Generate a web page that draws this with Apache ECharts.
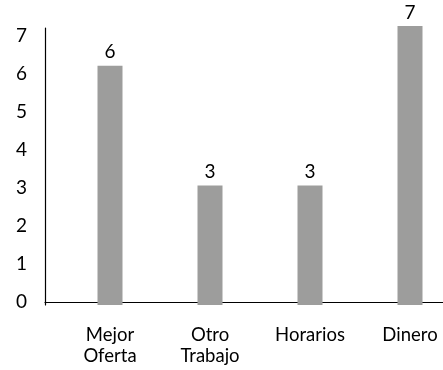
<!DOCTYPE html>
<html>
<head>
<meta charset="utf-8">
<script src="https://cdn.jsdelivr.net/npm/echarts@6/dist/echarts.min.js"></script>
<style>
  html, body { margin: 0; padding: 0; background: #fff; }
  #chart { width: 443px; height: 370px; }
</style>
</head>
<body>
<div id="chart"></div>
<script>
// Reasons and their counts
const categories = ['Mejor\nOferta', 'Otro\nTrabajo', 'Horarios', 'Dinero'];
const counts = [6, 3, 3, 7];
const yTicks = [0, 1, 2, 3, 4, 5, 6, 7];

const FONT = 'Lato, "Open Sans", sans-serif';
const chart = echarts.init(document.getElementById('chart'));

chart.setOption({
  animation: false,
  backgroundColor: '#ffffff',
  grid: [
    // plot area that holds the bars (runs past the right edge of the canvas)
    { left: 60, width: 400, top: 26, bottom: 65, outerBoundsMode: 'none', containLabel: false },
    // frame carrying the axis lines and the count ticks
    { left: 45, right: 0, top: 28, bottom: 65, outerBoundsMode: 'none', containLabel: false }
  ],
  xAxis: [
    {
      gridIndex: 0,
      type: 'category',
      data: categories,
      axisLine: { show: false },
      axisTick: { show: false },
      axisLabel: {
        color: '#000', fontFamily: FONT, fontSize: 18.5, lineHeight: 21,
        margin: 20, interval: 0
      }
    },
    {
      gridIndex: 1,
      type: 'value', min: 0, max: 1,
      axisLine: { show: true, lineStyle: { color: '#000', width: 1.2 } },
      axisTick: { show: false },
      axisLabel: { show: false },
      splitLine: { show: false }
    }
  ],
  yAxis: [
    {
      gridIndex: 0,
      type: 'value', min: 0, max: 7,
      show: false,
      splitLine: { show: false }
    },
    {
      gridIndex: 1,
      type: 'value', min: -0.079, max: 7.21,
      axisLine: { show: true, lineStyle: { color: '#000', width: 1.2 } },
      axisTick: { show: false },
      splitLine: { show: false },
      axisLabel: {
        customValues: yTicks,
        color: '#000', fontFamily: FONT, fontSize: 19,
        margin: 18
      }
    }
  ],
  series: [{
    type: 'bar',
    xAxisIndex: 0,
    yAxisIndex: 0,
    data: counts,
    barWidth: 25,
    itemStyle: { color: '#9d9d9c' },
    label: {
      show: true, position: 'top', distance: 4,
      color: '#000', fontFamily: FONT, fontSize: 19
    }
  }]
});
</script>
</body>
</html>
